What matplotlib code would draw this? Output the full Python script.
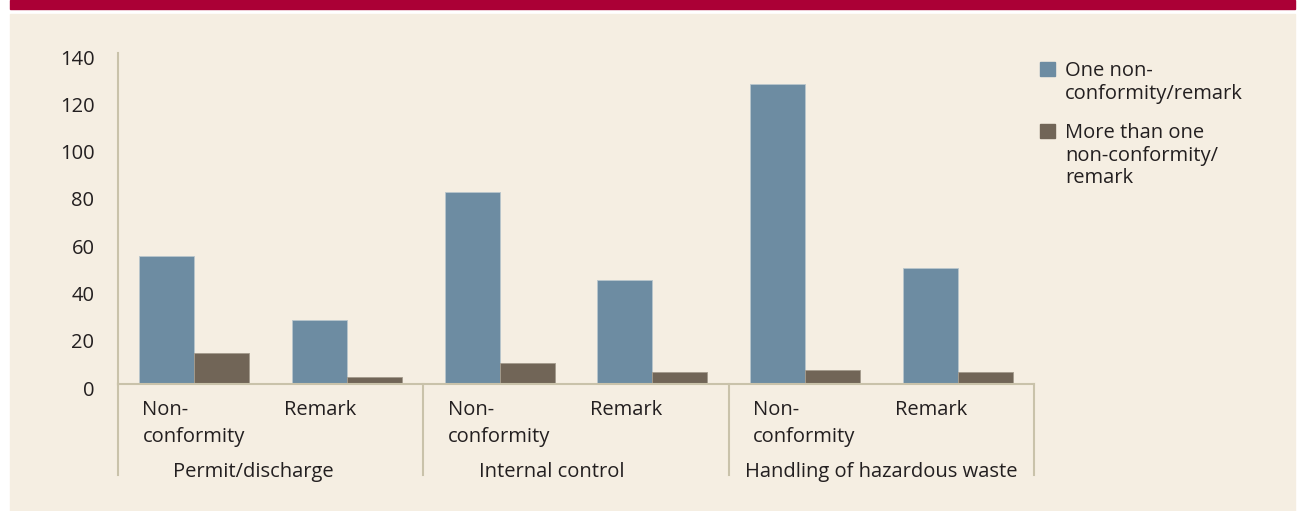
import matplotlib.pyplot as plt
from matplotlib.patches import Rectangle
from matplotlib.lines import Line2D
from matplotlib.transforms import blended_transform_factory, ScaledTranslation
import numpy as np

groups = ['Permit/discharge', 'Internal control', 'Handling of hazardous waste']
categories = ['Non-\nconformity', 'Remark'] * 3
one_nc = [54, 27, 81, 44, 127, 49]
more_nc = [13, 3, 9, 5, 6, 5]
series = ['One non-\nconformity/remark', 'More than one\nnon-conformity/\nremark']
yticks = [0, 20, 40, 60, 80, 100, 120, 140]

blue = '#6d8ca2'
brown = '#716557'
beige = '#f5eee2'
red = '#ab0036'
ink = '#231f20'
axcol = '#c9c2aa'

plt.rcParams['font.family'] = ['Open Sans', 'DejaVu Sans']
fs = 14.5

W, H = 1302, 511
fig = plt.figure(figsize=(W / 100, H / 100), dpi=100, facecolor='white')

# page background: red band and beige panel (behind the axes)
fig.patches.append(Rectangle((10 / W, 1 - 9 / H), 1285 / W, 9 / H,
                             transform=fig.transFigure, color=red, zorder=-10))
fig.patches.append(Rectangle((10 / W, 0), 1285 / W, 1 - 14 / H,
                             transform=fig.transFigure, color=beige, zorder=-10))

ax = fig.add_axes([118 / W, 1 - 384 / H, (1034 - 118) / W, (384 - 53) / H])
ax.set_facecolor('none')

x = np.arange(len(categories))
bw = 0.36
ax.bar(x - bw / 2, one_nc, bw, color=blue, edgecolor='#b9c6cc', linewidth=0.6, zorder=2)
ax.bar(x + bw / 2, more_nc, bw, color=brown, edgecolor='#a39a8c', linewidth=0.6, zorder=2)

ax.set_xlim(-0.5, len(categories) - 0.5)
ax.set_ylim(0, 140)
ax.set_yticks(yticks)
ax.set_yticklabels([str(v) for v in yticks], fontsize=fs, color=ink)
ax.tick_params(axis='y', length=0, pad=17)
ax.set_xticks([])
for lab in ax.get_yticklabels():
    lab.set_transform(lab.get_transform() + ScaledTranslation(0, -4 / 100, fig.dpi_scale_trans))

for s in ['top', 'right']:
    ax.spines[s].set_visible(False)
for s in ['left', 'bottom']:
    ax.spines[s].set_color(axcol)
    ax.spines[s].set_linewidth(1.5)

ax_h = 384 - 53
trans = blended_transform_factory(ax.transData, ax.transAxes)

# category labels
for i, lab in enumerate(categories):
    off = -0.34 if lab.startswith('Non') else -0.41
    for j, line in enumerate(lab.split('\n')):
        ax.text(i + off, -(31 + 27 * j) / ax_h, line, transform=trans,
                ha='left', va='baseline', fontsize=fs, color=ink)

# group labels
shifts = [-0.116, -0.16, 0.0]
for g, name in enumerate(groups):
    ax.text(2 * g + 0.5 + shifts[g], -93 / ax_h, name, transform=trans,
            ha='center', va='baseline', fontsize=fs, color=ink)

# group separators
for xs in np.arange(-0.5, len(categories), 2):
    ax.add_line(Line2D([xs, xs], [0, -91 / ax_h], transform=trans, color=axcol,
                       linewidth=1.5, clip_on=False))

# legend
colors = [blue, brown]
tops = [62, 124]
for k, name in enumerate(series):
    fig.patches.append(Rectangle((1040 / W, 1 - (tops[k] + 14) / H), 15 / W, 14 / H,
                                 transform=fig.transFigure, color=colors[k], zorder=3))
    for j, line in enumerate(name.split('\n')):
        fig.text(1065 / W, 1 - (tops[k] + 14 + 22.7 * j) / H, line,
                 ha='left', va='baseline', fontsize=fs, color=ink)

fig.savefig('out.png', dpi=100, facecolor='white')
